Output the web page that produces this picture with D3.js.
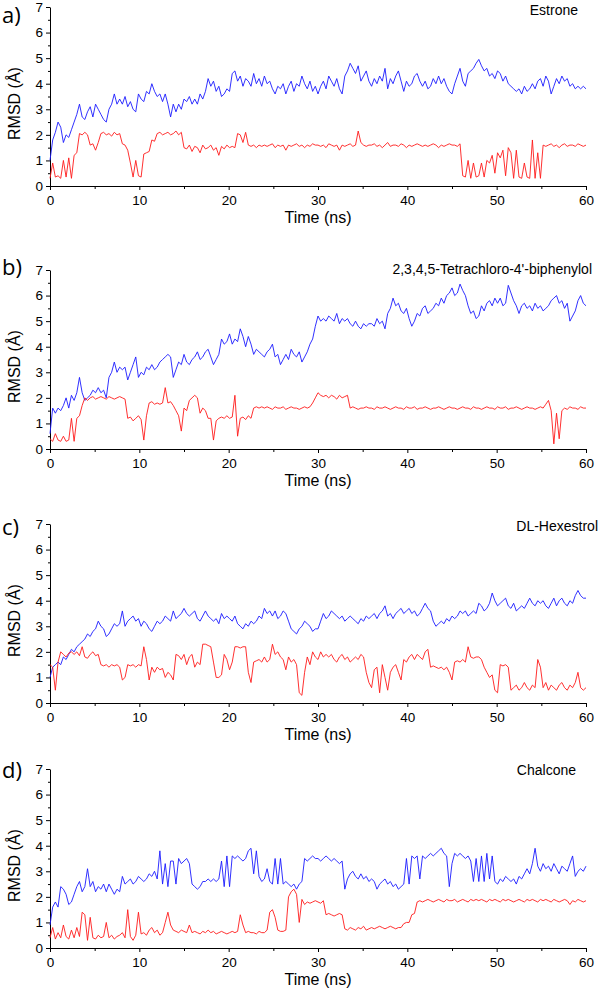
<!DOCTYPE html>
<html><head><meta charset="utf-8">
<script src="https://cdn.jsdelivr.net/npm/d3@7"></script>
<style>body{margin:0;background:#fff} svg{display:block}</style>
</head><body><svg id="c" width="600" height="988"></svg>
<script>
// ---------- data ----------
const compounds = ["Estrone", "2,3,4,5-Tetrachloro-4'-biphenylol", "DL-Hexestrol", "Chalcone"];
const panelLabels = ["a)", "b)", "c)", "d)"];
const xTicks = [0, 10, 20, 30, 40, 50, 60];
const xMinor = [5, 15, 25, 35, 45, 55];
const yTicks = [0, 1, 2, 3, 4, 5, 6, 7];
const yMinor = [0.5, 1.5, 2.5, 3.5, 4.5, 5.5, 6.5];
const sampleStep = 0.3; // ns between samples

const estroneBlue = [
1.0,1.8,2.1,2.5,2.3,1.7,2.0,1.9,2.2,2.5,2.8,3.2,2.7,2.6,2.9,3.1,2.7,3.2,3.0,2.8,
2.6,2.5,3.0,3.2,3.6,3.2,3.4,3.2,3.5,3.1,3.3,3.0,2.9,3.6,3.4,3.3,3.7,3.6,4.0,3.7,
3.5,3.6,3.3,3.6,3.2,2.7,3.2,2.9,3.2,3.0,3.4,3.3,3.5,3.2,3.4,3.2,3.6,3.4,3.7,4.2,
3.9,4.1,3.7,3.9,3.5,3.6,3.8,3.7,4.4,4.5,4.1,4.3,3.9,4.2,4.1,3.9,4.4,4.0,4.2,3.9,
4.3,4.0,4.1,3.8,3.6,3.9,3.8,4.0,3.6,3.9,4.1,3.7,4.0,3.9,4.3,4.0,3.8,4.1,3.7,3.9,
3.6,3.9,4.1,3.8,4.3,4.1,3.9,4.2,3.8,3.6,4.3,4.5,4.8,4.6,4.4,4.7,4.1,4.3,4.5,4.1,
3.9,4.2,4.0,4.3,4.1,4.6,3.8,4.2,4.0,4.3,4.5,4.1,3.7,4.1,3.9,4.0,4.3,4.4,4.1,3.9,
4.1,3.8,3.9,4.2,4.0,4.3,4.0,4.2,3.9,3.7,3.6,4.0,4.3,4.6,4.1,3.9,4.4,4.5,4.6,4.8,
4.95,4.7,4.5,4.6,4.3,4.4,4.2,4.5,4.4,4.1,4.3,4.0,3.9,3.8,3.7,3.8,3.6,3.9,3.7,3.8,
4.0,3.8,4.1,4.2,3.9,4.3,4.1,3.6,3.9,4.2,4.0,4.3,4.1,4.2,3.9,4.0,3.8,3.9,3.8,3.9,
3.8];
const estroneRed = [
0.3,0.9,0.35,0.4,0.3,1.0,0.35,1.1,0.3,1.2,1.3,2.05,2.0,2.1,2.0,1.6,1.65,1.4,1.7,2.05,
2.1,2.0,2.05,1.95,2.1,2.0,2.05,1.65,1.6,1.4,0.9,0.35,1.0,0.4,0.35,1.25,1.3,1.35,1.8,1.75,
2.05,2.1,2.0,2.05,2.1,2.0,2.05,2.15,2.0,2.1,1.5,1.45,1.6,1.35,1.55,1.5,1.3,1.6,1.45,1.5,
1.6,1.4,1.5,1.2,1.55,1.45,1.6,1.5,1.55,1.5,2.05,2.0,1.7,2.1,1.6,1.55,1.6,1.5,1.6,1.55,
1.6,1.55,1.6,1.65,1.5,1.6,1.55,1.6,1.4,1.6,1.55,1.6,1.65,1.55,1.6,1.5,1.6,1.55,1.65,1.6,
1.6,1.55,1.6,1.5,1.65,1.6,1.55,1.6,1.4,1.6,1.55,1.6,1.65,1.55,1.6,2.15,1.7,1.6,1.55,1.6,
1.6,1.65,1.55,1.6,1.5,1.6,1.7,1.55,1.6,1.6,1.55,1.65,1.6,1.5,1.6,1.55,1.6,1.65,1.6,1.55,
1.6,1.55,1.6,1.65,1.6,1.5,1.6,1.55,1.6,1.65,1.6,1.6,1.55,1.65,0.4,0.35,1.0,0.3,0.9,0.35,
0.4,0.9,0.35,1.0,0.9,1.2,0.5,1.3,1.1,1.4,0.4,1.5,1.3,0.3,1.4,0.35,0.3,0.9,0.35,0.3,
1.8,0.3,1.3,0.3,1.6,1.55,1.6,1.65,1.55,1.6,1.5,1.6,1.65,1.55,1.6,1.6,1.55,1.65,1.6,1.55,
1.6];

const biphenylolBlue = [
0.6,1.6,1.4,1.6,1.5,1.7,2.0,1.6,2.1,1.9,2.2,2.8,2.2,1.9,2.0,2.1,2.3,2.2,2.4,2.2,
2.3,2.0,2.8,3.0,3.4,3.0,3.2,3.1,3.2,2.7,3.0,3.3,3.6,2.8,3.0,2.9,3.2,3.1,3.3,3.1,
3.2,3.4,3.5,3.6,3.7,3.6,2.8,3.1,3.4,3.3,3.7,3.4,3.3,3.5,3.6,3.8,3.5,3.6,3.8,3.9,
3.6,3.3,3.5,3.7,4.3,4.1,4.2,4.5,4.1,4.3,4.2,4.7,4.4,4.0,4.4,4.1,3.7,3.9,3.8,3.7,
3.6,3.8,3.9,4.1,3.6,3.7,3.3,3.5,3.7,3.5,3.9,3.7,3.6,3.8,3.4,3.6,3.8,4.1,4.3,4.8,
5.2,5.0,5.1,5.0,5.2,5.1,5.0,5.3,4.9,5.1,5.0,5.1,4.9,4.8,5.0,4.8,4.7,4.9,4.8,4.9,
4.9,4.8,5.1,4.9,5.0,4.7,5.3,5.5,5.9,5.6,5.7,5.4,5.3,5.5,5.1,4.8,5.0,5.3,5.2,5.5,
5.6,5.3,5.4,5.5,5.7,5.6,5.9,5.7,6.0,6.1,6.3,6.0,6.1,6.45,6.2,6.0,5.6,5.3,5.4,5.1,
5.2,5.6,5.4,5.7,5.8,5.6,5.9,5.7,5.9,5.6,5.7,6.4,6.1,5.8,5.6,5.3,5.6,5.7,5.5,5.6,
5.4,5.7,5.5,5.6,5.4,5.5,5.6,5.8,5.9,6.0,5.7,5.8,5.5,5.7,5.0,5.2,5.4,5.8,6.0,5.7,
5.6];
const biphenylolRed = [
0.4,0.3,0.6,0.35,0.3,0.5,0.3,0.35,1.2,0.3,1.2,1.3,1.7,2.0,1.9,2.0,2.05,1.95,2.0,2.05,
2.0,1.95,2.05,2.0,1.95,2.0,2.05,2.0,1.95,1.2,1.25,1.1,1.2,1.3,1.15,0.35,1.3,1.8,1.85,1.75,
1.8,1.75,1.8,2.4,1.8,1.85,1.7,1.5,1.3,0.7,1.6,1.5,1.9,2.0,2.1,2.0,1.4,1.6,1.5,1.2,
1.2,0.35,1.1,1.2,1.25,1.2,1.3,1.2,1.25,2.1,0.5,1.2,1.25,1.15,1.3,1.2,1.6,1.65,1.6,1.65,
1.6,1.65,1.6,1.55,1.65,1.6,1.6,1.65,1.55,1.6,1.65,1.6,1.6,1.55,1.6,1.65,1.6,1.65,1.8,2.0,
2.2,2.1,2.05,2.1,2.0,2.1,2.05,1.95,2.1,2.0,2.05,2.1,1.6,1.65,1.6,1.55,1.6,1.6,1.65,1.6,
1.6,1.55,1.65,1.6,1.6,1.65,1.6,1.55,1.6,1.65,1.6,1.6,1.55,1.65,1.6,1.6,1.65,1.55,1.6,1.6,
1.65,1.6,1.55,1.6,1.6,1.65,1.6,1.55,1.6,1.65,1.6,1.6,1.55,1.6,1.65,1.6,1.6,1.55,1.65,1.6,
1.6,1.55,1.6,1.65,1.6,1.6,1.55,1.65,1.6,1.6,1.65,1.55,1.6,1.6,1.65,1.6,1.55,1.6,1.65,1.6,
1.6,1.55,1.6,1.65,1.6,1.75,1.9,1.5,0.2,1.4,0.4,1.5,1.6,1.55,1.65,1.6,1.6,1.55,1.65,1.6,
1.6];

const hexestrolBlue = [
1.0,1.4,1.5,1.6,1.5,1.8,1.7,1.9,2.1,2.0,2.2,2.3,2.4,2.5,2.7,2.6,2.8,2.9,3.2,3.0,
2.9,2.6,2.7,2.9,3.1,3.0,3.1,3.6,3.0,3.2,3.3,3.4,3.2,3.3,3.0,3.2,3.1,2.9,2.8,3.0,
3.2,3.1,3.2,3.4,3.3,3.2,3.6,3.3,3.4,3.5,3.7,3.5,3.4,3.5,3.6,3.3,3.2,3.4,3.6,3.4,
3.3,3.2,3.3,3.1,3.5,3.3,3.4,3.3,3.2,3.4,3.1,3.0,2.9,3.1,3.0,3.2,3.1,3.2,3.4,3.3,
3.7,3.5,3.6,3.4,3.6,3.3,3.4,3.6,3.5,3.2,2.9,2.8,2.7,2.9,3.0,3.2,3.1,3.0,2.8,2.9,
2.9,3.2,3.5,3.3,3.4,3.6,3.5,3.4,3.3,3.4,3.2,3.3,3.4,3.3,3.2,3.1,3.3,3.2,3.4,3.3,
3.4,3.5,3.3,3.5,3.6,3.8,3.4,3.5,3.3,3.5,3.6,3.7,3.5,3.6,3.7,3.5,3.6,3.4,3.5,3.7,
3.9,3.7,3.6,3.2,3.0,3.1,3.2,3.1,3.3,3.2,3.4,3.3,3.4,3.6,3.5,3.6,3.4,3.5,3.6,3.5,
3.9,3.8,3.6,3.7,3.9,4.3,4.0,3.8,3.9,4.0,4.1,3.8,3.7,3.9,3.6,3.7,3.8,3.7,3.9,4.1,
3.9,3.8,4.0,3.9,4.0,3.8,3.7,3.9,4.1,3.8,4.0,4.1,3.9,3.8,4.0,3.9,4.2,4.4,4.2,4.1,
4.1];
const hexestrolRed = [
1.5,1.4,0.5,1.6,2.0,1.9,1.8,1.95,2.0,1.9,2.0,1.85,2.2,1.8,1.75,1.9,2.0,1.85,1.9,1.5,
1.45,1.5,1.4,1.5,1.45,1.5,1.4,0.9,1.0,1.5,1.45,1.5,1.4,1.5,1.45,2.2,1.7,0.9,1.4,1.2,
1.4,1.3,1.35,1.0,1.2,1.1,0.9,1.9,1.85,1.7,1.9,1.5,1.8,1.9,1.4,1.6,1.5,2.3,2.3,2.25,
2.2,1.6,1.0,1.0,1.1,1.9,1.7,1.3,1.6,2.2,2.2,2.15,2.2,2.2,1.2,0.8,1.6,1.65,1.7,1.6,
1.8,1.6,1.7,2.3,1.9,2.0,1.8,1.7,1.3,1.8,1.6,1.7,1.5,0.4,0.3,1.2,1.8,1.5,2.0,1.8,
1.7,2.0,1.8,1.9,1.8,1.9,1.7,1.6,1.8,1.9,1.7,1.8,1.6,1.7,1.8,1.7,1.9,1.8,1.2,0.8,
0.6,1.3,1.4,0.4,1.5,1.0,0.5,1.2,1.4,1.5,1.2,0.9,1.7,1.6,1.8,1.9,1.7,1.9,1.8,1.7,
2.0,2.1,1.4,1.45,1.4,1.35,1.4,1.3,1.4,1.2,0.9,1.6,1.65,1.6,1.7,1.6,2.2,1.8,1.75,1.8,
1.8,1.7,1.4,1.2,1.0,1.1,0.5,0.4,1.5,1.45,1.5,1.4,0.5,0.6,0.7,0.5,0.6,0.8,0.6,0.5,
0.7,0.6,1.7,1.4,0.6,0.8,0.5,0.7,0.6,0.5,0.7,0.8,0.6,0.5,0.7,0.6,0.8,1.2,0.6,0.5,
0.6];

const chalconeBlue = [
0.9,1.6,1.8,1.6,2.4,2.3,2.1,1.7,1.8,2.1,2.4,2.6,2.2,2.4,3.1,2.4,2.6,2.2,2.4,2.3,
2.5,2.2,2.5,2.3,2.1,2.3,2.2,2.8,2.5,2.6,2.7,2.5,2.6,2.8,2.7,2.6,2.7,2.9,2.8,3.0,
2.7,3.8,2.5,3.3,2.4,3.4,3.4,2.5,3.5,3.3,3.4,3.5,3.3,2.5,2.4,2.3,2.4,2.6,2.6,2.7,
2.6,2.7,2.6,2.7,3.4,2.4,3.6,2.4,3.6,3.5,3.6,3.5,3.4,3.5,3.8,3.9,2.9,3.8,2.8,2.6,
2.7,3.1,2.6,2.5,3.5,2.5,3.5,2.5,2.6,2.5,2.4,2.5,2.3,2.5,2.6,3.5,3.4,3.5,3.6,3.5,
3.5,3.4,3.5,3.6,3.5,3.4,3.5,3.4,3.3,3.4,2.3,2.7,2.9,3.0,2.8,2.7,2.9,2.7,2.8,2.6,
2.7,2.6,2.3,2.5,2.6,2.7,2.5,2.6,2.4,2.5,2.3,2.4,2.5,3.5,2.5,3.6,3.5,3.6,2.7,3.6,
3.5,3.6,3.7,3.6,3.7,3.8,3.9,3.7,3.6,2.4,3.3,3.7,3.6,3.7,3.6,3.5,3.6,3.4,2.6,3.5,
2.6,3.6,2.6,3.7,2.7,3.6,2.6,2.5,2.7,2.6,2.8,2.7,2.6,2.7,2.5,2.8,2.7,2.9,3.1,2.9,
3.3,3.9,3.2,3.0,3.3,3.1,3.2,3.0,3.3,3.1,2.9,3.2,3.1,3.0,3.3,3.6,2.8,3.0,3.1,3.0,
3.2];
const chalconeRed = [
0.4,0.8,0.35,0.6,0.4,0.9,0.45,0.35,0.7,0.4,0.8,0.45,1.4,1.3,0.3,1.2,0.4,0.35,0.5,0.4,
0.45,1.0,0.4,0.5,0.35,0.45,0.5,0.6,0.4,1.5,0.45,0.3,0.5,1.4,0.55,0.6,0.5,0.7,0.8,0.6,
0.7,0.5,0.6,1.0,1.4,0.9,0.7,0.65,0.6,0.7,0.65,0.6,0.9,0.6,0.65,0.6,0.55,0.65,0.6,0.7,
0.6,0.65,0.55,0.6,0.65,0.6,0.55,0.6,0.65,0.6,0.65,1.3,0.9,0.6,0.65,0.6,0.6,0.55,0.65,0.6,
0.6,0.7,1.4,1.5,1.2,0.7,0.65,0.65,0.7,2.0,2.2,2.3,2.1,1.0,1.9,1.7,1.8,1.75,1.8,1.85,
1.8,1.75,1.85,1.3,1.35,1.3,1.25,1.3,1.35,1.3,0.75,0.7,0.8,0.75,0.7,0.8,0.75,0.85,0.7,0.75,
0.8,0.75,0.8,0.85,0.8,0.75,0.8,0.85,0.8,0.75,0.8,0.8,0.95,1.0,1.0,1.3,1.35,1.8,1.85,1.8,
1.85,1.9,1.85,1.8,1.85,1.9,1.85,1.8,1.9,1.85,1.85,1.9,1.8,1.85,1.9,1.85,1.8,1.9,1.85,1.9,
1.85,1.9,1.85,1.8,1.9,1.85,1.9,1.85,1.8,1.9,1.85,1.9,1.85,1.8,1.85,1.9,1.85,1.8,1.9,1.85,
1.9,1.85,1.8,1.9,1.85,1.9,1.85,1.8,1.9,1.85,1.8,1.85,1.9,1.85,1.7,1.85,1.8,1.9,1.85,1.8,
1.85];

const blueSeries = [estroneBlue, biphenylolBlue, hexestrolBlue, chalconeBlue];
const redSeries = [estroneRed, biphenylolRed, hexestrolRed, chalconeRed];

// ---------- layout ----------
const FONT = "'Liberation Sans', Arial, sans-serif";
const plotLeft = 50, plotRight = 586, plotH = 179;
const panelTops = [7, 270, 524, 769];
const titleX = [578, 592, 598, 576];
const titleY = [15, 274, 531, 775];
const letterY = [23, 275, 535, 778];

const svg = d3.select("#c");
const x = d3.scaleLinear().domain([0, 60]).range([plotLeft, plotRight]);

compounds.forEach((name, i) => {
  const top = panelTops[i], bottom = top + plotH;
  const y = d3.scaleLinear().domain([0, 7]).range([bottom, top]);
  const g = svg.append("g");

  // minor ticks
  g.append("g").attr("transform", `translate(0,${bottom})`)
    .call(d3.axisBottom(x).tickValues(xMinor).tickSize(3).tickFormat(""))
    .call(s => s.select(".domain").remove());
  g.append("g").attr("transform", `translate(${plotLeft},0)`)
    .call(d3.axisLeft(y).tickValues(yMinor).tickSize(2).tickFormat(""))
    .call(s => s.select(".domain").remove());

  // major axes
  const xa = g.append("g").attr("transform", `translate(0,${bottom})`)
    .call(d3.axisBottom(x).tickValues(xTicks).tickFormat(d3.format("d"))
      .tickSize(4).tickPadding(5).tickSizeOuter(0));
  const ya = g.append("g").attr("transform", `translate(${plotLeft},0)`)
    .call(d3.axisLeft(y).tickValues(yTicks).tickFormat(d3.format("d"))
      .tickSize(4).tickPadding(3).tickSizeOuter(0));
  [xa, ya].forEach(a => a.attr("font-family", FONT).attr("font-size", 13.5)
    .call(s => s.selectAll("text").attr("fill", "#000"))
    .call(s => s.selectAll("line,path").attr("stroke", "#000")));

  const line = d3.line()
    .x((d, k) => x(k * sampleStep))
    .y(d => y(d));

  g.append("path").datum(blueSeries[i])
    .attr("fill", "none").attr("stroke", "#1a1aff").attr("stroke-width", 0.9)
    .attr("stroke-linejoin", "round").attr("d", line);
  g.append("path").datum(redSeries[i])
    .attr("fill", "none").attr("stroke", "#ff1a1a").attr("stroke-width", 0.9)
    .attr("stroke-linejoin", "round").attr("d", line);

  // texts
  g.append("text").attr("x", titleX[i]).attr("y", titleY[i])
    .attr("text-anchor", "end").attr("font-family", FONT).attr("font-size", 14)
    .text(name);
  g.append("text").attr("x", 2).attr("y", letterY[i])
    .attr("font-family", "'Open Sans', sans-serif").attr("font-size", 22)
    .text(panelLabels[i]);
  g.append("text").attr("transform", `translate(20,${(top + bottom) / 2 + 7}) rotate(-90)`)
    .attr("text-anchor", "middle").attr("font-family", FONT).attr("font-size", 16)
    .text("RMSD (Å)");
  g.append("text").attr("x", (plotLeft + plotRight) / 2).attr("y", bottom + 37)
    .attr("text-anchor", "middle").attr("font-family", FONT).attr("font-size", 16)
    .text("Time (ns)");
});
</script></body></html>
